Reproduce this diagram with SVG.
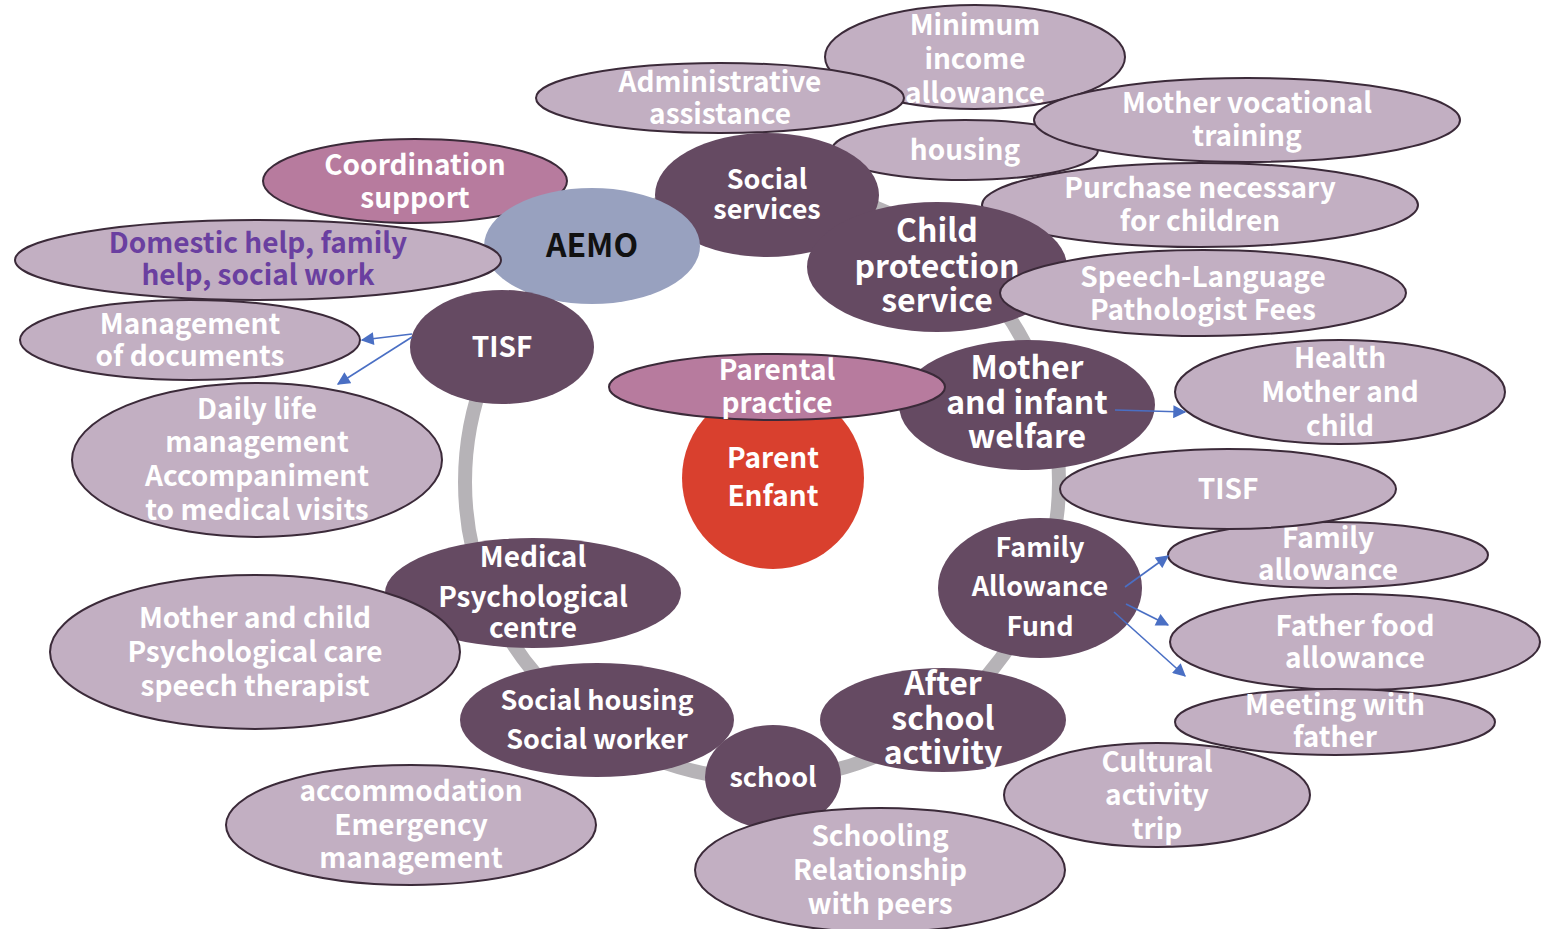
<svg xmlns="http://www.w3.org/2000/svg" width="1543" height="929" viewBox="0 0 1543 929">
<defs>
<style>
.lt{fill:#c2afc2;stroke:#3b2a39;stroke-width:2}
.dk{fill:#654a62}
.pk{fill:#b77b9e;stroke:#3b2a39;stroke-width:2}
.bl{fill:#98a1bf}
.rd{fill:#d9402e}
text{font-family:"Noto Sans CJK JP","Liberation Sans",sans-serif;font-weight:bold;fill:#fff;text-anchor:middle;dominant-baseline:central;font-size:28px}
.big{font-size:32px}
.mid{font-size:27px}
.pu{fill:#6a3fa0}
.bk{fill:#111}
.ar{stroke:#4a6fc4;stroke-width:1.6;fill:none;marker-end:url(#ah)}
</style>
<marker id="ah" viewBox="0 0 10 10" refX="9" refY="5" markerWidth="14" markerHeight="13" markerUnits="userSpaceOnUse" orient="auto"><path d="M0,0 L10,5 L0,10 Z" fill="#4a6fc4"/></marker>
</defs>
<rect width="1543" height="929" fill="#fff"/>
<g id="ring"><circle cx="762" cy="482" r="297" fill="none" stroke="#b6b3b7" stroke-width="14"/></g>

<g id="minimum"><ellipse class="lt" cx="975" cy="57" rx="150" ry="52"/></g>
<g id="admin"><ellipse class="lt" cx="720" cy="98" rx="184" ry="35"/><text x="720" y="80">Administrative</text><text x="720" y="112">assistance</text></g>
<g id="minimum-text"><text x="975" y="23">Minimum</text><text x="975" y="57">income</text><text x="975" y="91">allowance</text></g>
<g id="housing"><ellipse class="lt" cx="965" cy="150" rx="133" ry="30"/><text x="965" y="148">housing</text></g>
<g id="vocational"><ellipse class="lt" cx="1247" cy="120" rx="213" ry="42"/><text x="1247" y="101">Mother vocational</text><text x="1247" y="134">training</text></g>
<g id="social-services"><ellipse class="dk" cx="767" cy="195" rx="112" ry="62"/><text class="mid" x="767" y="177">Social</text><text class="mid" x="767" y="207">services</text></g>
<g id="coordination"><ellipse class="pk" cx="415" cy="181" rx="152" ry="42"/><text x="415" y="163">Coordination</text><text x="415" y="196">support</text></g>
<g id="aemo"><ellipse class="bl" cx="592" cy="246" rx="108" ry="58"/><text class="big bk" x="592" y="243">AEMO</text></g>
<g id="domestic"><ellipse class="lt" cx="258" cy="260" rx="243" ry="40"/><text class="pu" x="258" y="241">Domestic help, family</text><text class="pu" x="258" y="273">help, social work</text></g>
<g id="purchase"><ellipse class="lt" cx="1200" cy="205" rx="218" ry="42"/><text x="1200" y="186">Purchase necessary</text><text x="1200" y="219">for children</text></g>
<g id="child-protection"><ellipse class="dk" cx="937" cy="267" rx="130" ry="65"/><text class="big" x="937" y="228">Child</text><text class="big" x="937" y="264">protection</text><text class="big" x="937" y="298">service</text></g>
<g id="speech"><ellipse class="lt" cx="1203" cy="293" rx="203" ry="43"/><text x="1203" y="275">Speech-Language</text><text x="1203" y="308">Pathologist Fees</text></g>
<g id="tisf-left"><ellipse class="dk" cx="502" cy="347" rx="92" ry="57"/><text x="502" y="345">TISF</text></g>
<g id="documents"><ellipse class="lt" cx="190" cy="340" rx="170" ry="40"/><text x="190" y="322">Management</text><text x="190" y="354">of documents</text></g>
<g id="daily-life"><ellipse class="lt" cx="257" cy="460" rx="185" ry="77"/><text x="257" y="407">Daily life</text><text x="257" y="440">management</text><text x="257" y="474">Accompaniment</text><text x="257" y="508">to medical visits</text></g>
<g id="mother-infant"><ellipse class="dk" cx="1027" cy="405" rx="128" ry="65"/><text class="big" x="1027" y="365">Mother</text><text class="big" x="1027" y="400">and infant</text><text class="big" x="1027" y="434">welfare</text></g>
<g id="parent-enfant"><circle class="rd" cx="773" cy="478" r="91"/><text x="773" y="456">Parent</text><text x="773" y="494">Enfant</text></g>
<g id="parental"><ellipse class="pk" cx="777" cy="387" rx="168" ry="33"/><text x="777" y="368">Parental</text><text x="777" y="401">practice</text></g>
<g id="health"><ellipse class="lt" cx="1340" cy="392" rx="165" ry="52"/><text x="1340" y="356">Health</text><text x="1340" y="390">Mother and</text><text x="1340" y="424">child</text></g>
<g id="family-fund"><ellipse class="dk" cx="1040" cy="588" rx="102" ry="70"/><text class="mid" x="1040" y="545">Family</text><text class="mid" x="1040" y="584">Allowance</text><text class="mid" x="1040" y="624">Fund</text></g>
<g id="family-allowance"><ellipse class="lt" cx="1328" cy="555" rx="160" ry="33"/><text x="1328" y="536">Family</text><text x="1328" y="568">allowance</text></g>
<g id="tisf-right"><ellipse class="lt" cx="1228" cy="489" rx="168" ry="40"/><text x="1228" y="487">TISF</text></g>
<g id="father-food"><ellipse class="lt" cx="1355" cy="642" rx="185" ry="48"/><text x="1355" y="624">Father food</text><text x="1355" y="656">allowance</text></g>
<g id="meeting"><ellipse class="lt" cx="1335" cy="722" rx="160" ry="33"/><text x="1335" y="703">Meeting with</text><text x="1335" y="735">father</text></g>
<g id="cultural"><ellipse class="lt" cx="1157" cy="795" rx="153" ry="52"/><text x="1157" y="760">Cultural</text><text x="1157" y="793">activity</text><text x="1157" y="827">trip</text></g>
<g id="after-school"><ellipse class="dk" cx="943" cy="720" rx="123" ry="52"/><text class="big" x="943" y="681">After</text><text class="big" x="943" y="716">school</text><text class="big" x="943" y="750">activity</text></g>
<g id="medical"><ellipse class="dk" cx="533" cy="593" rx="148" ry="55"/><text x="533" y="555">Medical</text><text x="533" y="595">Psychological</text><text x="533" y="626">centre</text></g>
<g id="psych-care"><ellipse class="lt" cx="255" cy="652" rx="205" ry="77"/><text x="255" y="616">Mother and child</text><text x="255" y="650">Psychological care</text><text x="255" y="684">speech therapist</text></g>
<g id="social-housing"><ellipse class="dk" cx="597" cy="720" rx="137" ry="57"/><text class="mid" x="597" y="698">Social housing</text><text class="mid" x="597" y="737">Social worker</text></g>
<g id="school"><ellipse class="dk" cx="773" cy="777" rx="68" ry="52"/><text class="mid" x="773" y="775">school</text></g>
<g id="accommodation"><ellipse class="lt" cx="411" cy="825" rx="185" ry="60"/><text x="411" y="789">accommodation</text><text x="411" y="823">Emergency</text><text x="411" y="856">management</text></g>
<g id="schooling"><ellipse class="lt" cx="880" cy="870" rx="185" ry="62"/><text x="880" y="834">Schooling</text><text x="880" y="868">Relationship</text><text x="880" y="902">with peers</text></g>

<g id="connectors">
<path class="ar" d="M412,334 L362,340"/>
<path class="ar" d="M412,337 L338,384"/>
<path class="ar" d="M1115,410 L1185,412"/>
<path class="ar" d="M1125,587 L1168,556"/>
<path class="ar" d="M1126,604 L1168,625"/>
<path class="ar" d="M1114,612 L1185,676"/>
</g>
</svg>
